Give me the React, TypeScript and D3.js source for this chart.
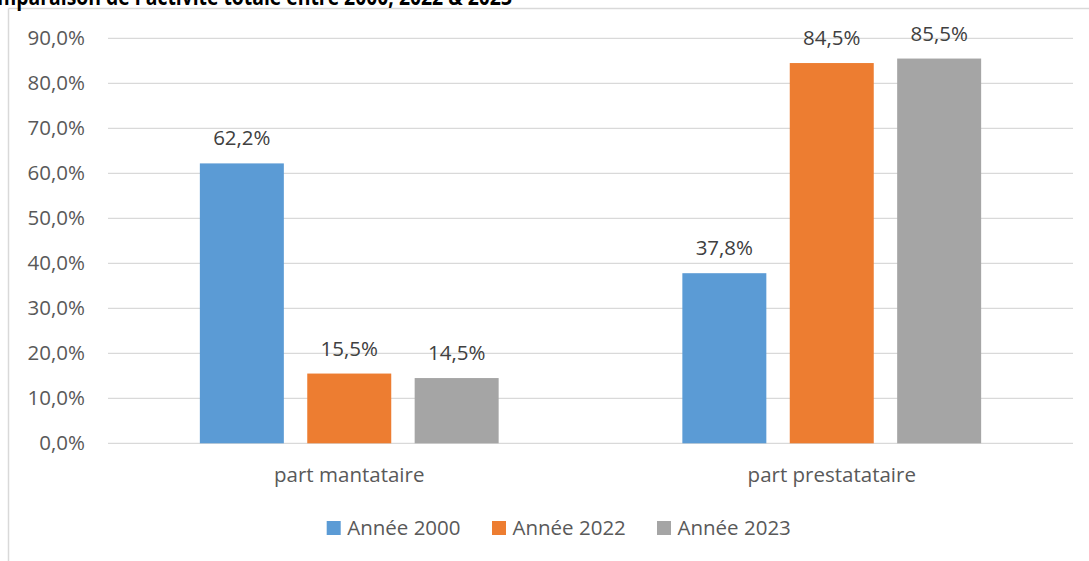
import React from "react";
import * as d3 from "d3";

const categories = ["part mantataire", "part prestatataire"];
const series = ["Année 2000", "Année 2022", "Année 2023"];
const values2000 = [0.622, 0.378];
const values2022 = [0.155, 0.845];
const values2023 = [0.145, 0.855];
const yTicks = [0, 0.1, 0.2, 0.3, 0.4, 0.5, 0.6, 0.7, 0.8, 0.9];
const title = "Comparaison de l'activité totale entre 2000, 2022 & 2023";

const colors = ["#5B9BD5", "#ED7D31", "#A5A5A5"];
const seriesValues = [values2000, values2022, values2023];

const W = 1089;
const H = 561;
const plotLeft = 108;
const plotRight = 1073;
const plotTop = 38.3;
const plotBottom = 443.3;
const FONT = "'Open Sans', sans-serif";

const fmtAxis = (v: number) => (v * 100).toFixed(1).replace(".", ",") + "%";
const fmtLabel = (v: number) => (v * 100).toFixed(1).replace(".", ",") + "%";

export default function App() {
  const y = d3.scaleLinear().domain([0, 0.9]).range([plotBottom, plotTop]);
  const x0 = d3.scaleBand<string>().domain(categories).range([plotLeft, plotRight]).padding(0);
  const groupW = 298.8;
  const x1 = d3.scaleBand<string>().domain(series).range([0, groupW]).paddingInner(0.218).paddingOuter(0);

  const legendItems = [
    { x: 326.7 },
    { x: 492 },
    { x: 657 },
  ];

  return (
    <svg
      width={W}
      height={H}
      style={{ position: "absolute", left: 0, top: 0, background: "#fff" }}
    >
      <rect x={0} y={0} width={W} height={H} fill="#fff" />
      {/* chart border (partially visible) */}
      <line x1={8.5} y1={8.5} x2={W} y2={8.5} stroke="#D9D9D9" strokeWidth={1.5} />
      <line x1={8.5} y1={8.5} x2={8.5} y2={H} stroke="#D9D9D9" strokeWidth={1.5} />
      {/* title, clipped at top as in the source */}
      <text
        x={-27}
        y={5}
        textLength={539}
        lengthAdjust="spacingAndGlyphs"
        fontFamily={FONT}
        fontWeight="bold"
        fontSize={23}
        fill="#000"
      >
        {title}
      </text>
      {/* gridlines */}
      {yTicks.map((t) => (
        <line
          key={"g" + t}
          x1={plotLeft}
          x2={plotRight}
          y1={y(t)}
          y2={y(t)}
          stroke="#D9D9D9"
          strokeWidth={1.3}
        />
      ))}
      {/* y tick labels */}
      {yTicks.map((t) => (
        <text
          key={"t" + t}
          x={85}
          y={y(t) + 7}
          textAnchor="end"
          fontFamily={FONT}
          fontSize={20.5}
          fill="#595959"
        >
          {fmtAxis(t)}
        </text>
      ))}
      {/* bars */}
      {categories.map((c, ci) => {
        const gx = (x0(c) as number) + (x0.bandwidth() - groupW) / 2;
        return (
          <g key={c}>
            {series.map((s, si) => {
              const v = seriesValues[si][ci];
              const bx = gx + (x1(s) as number);
              return (
                <g key={s}>
                  <rect
                    x={bx}
                    y={y(v)}
                    width={x1.bandwidth()}
                    height={y(0) - y(v)}
                    fill={colors[si]}
                  />
                  <text
                    x={bx + x1.bandwidth() / 2}
                    y={y(v) - 18}
                    textAnchor="middle"
                    fontFamily={FONT}
                    fontSize={20.5}
                    fill="#404040"
                  >
                    {fmtLabel(v)}
                  </text>
                </g>
              );
            })}
            <text
              x={(x0(c) as number) + x0.bandwidth() / 2}
              y={481.7}
              textAnchor="middle"
              fontFamily={FONT}
              fontSize={20.5}
              fill="#595959"
            >
              {c}
            </text>
          </g>
        );
      })}
      {/* legend */}
      {series.map((s, si) => (
        <g key={"l" + s}>
          <rect x={legendItems[si].x} y={521} width={14} height={14} fill={colors[si]} />
          <text
            x={legendItems[si].x + 20.5}
            y={535}
            fontFamily={FONT}
            fontSize={20.5}
            fill="#595959"
          >
            {s}
          </text>
        </g>
      ))}
    </svg>
  );
}
